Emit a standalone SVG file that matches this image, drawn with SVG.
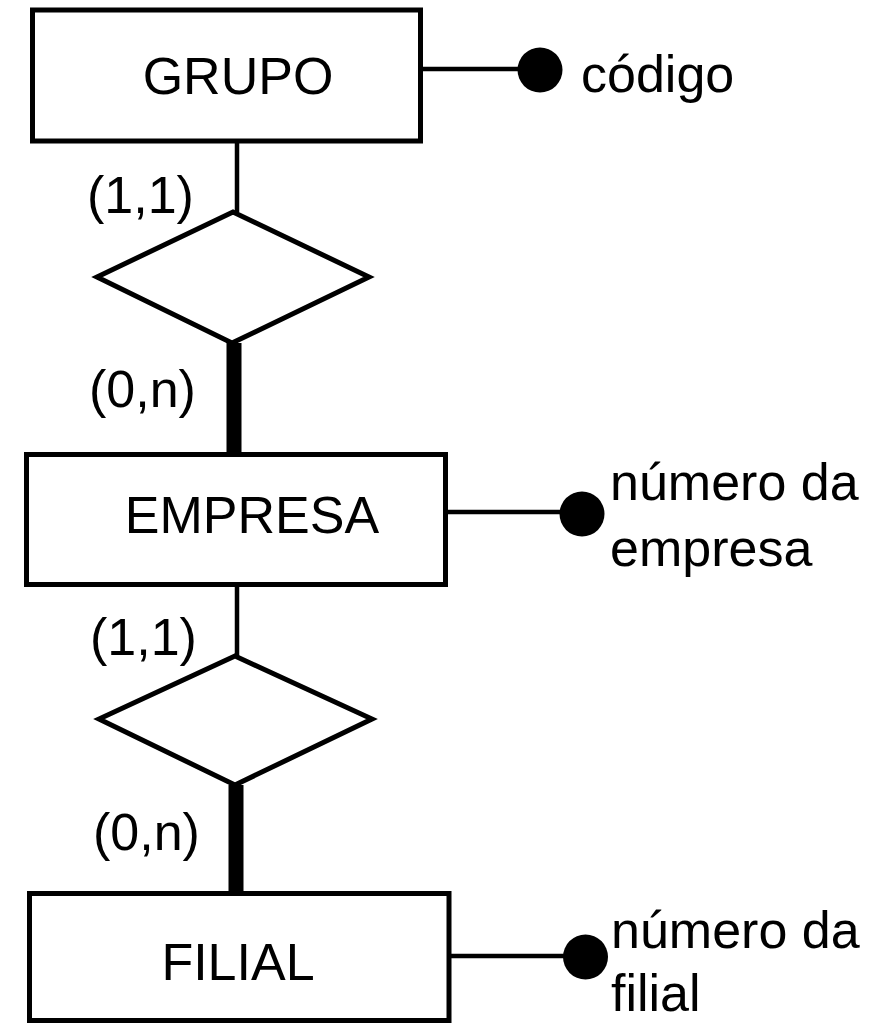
<svg xmlns="http://www.w3.org/2000/svg" width="884" height="1023" viewBox="0 0 884 1023">
<style>
.ent{fill:#fff;stroke:#000;stroke-width:5}
.rel{fill:#fff;stroke:#000;stroke-width:5;stroke-linejoin:miter}
.thin{stroke:#000;stroke-width:4.5;fill:none}
.thick{stroke:#000;stroke-width:15;fill:none}
.dot{fill:#000}
text{font-family:"Liberation Sans",Arial,Helvetica,sans-serif;font-size:52px;fill:#000}
</style>
<rect width="884" height="1023" fill="#fff"/>
<g id="connectors">
<line class="thin" x1="237" y1="141" x2="237" y2="212"/>
<line class="thick" x1="234" y1="343" x2="234" y2="455"/>
<line class="thin" x1="237" y1="585" x2="237" y2="656"/>
<line class="thick" x1="236" y1="785" x2="236" y2="894"/>
<line class="thin" x1="420" y1="69" x2="540" y2="69"/>
<line class="thin" x1="445" y1="512" x2="582" y2="512"/>
<line class="thin" x1="448" y1="956" x2="585" y2="956"/>
</g>
<g id="grupo">
<rect class="ent" x="32.5" y="10" width="388" height="131"/>
<text x="238" y="94" text-anchor="middle">GRUPO</text>
</g>
<g id="attr-codigo">
<circle class="dot" cx="540" cy="70" r="22.5"/>
<text x="581" y="92">código</text>
</g>
<g id="rel1">
<polygon class="rel" points="233,212 369,277 232,343 97,277"/>
</g>
<g id="card1">
<text x="87" y="213">(1,1)</text>
<text x="89" y="407">(0,n)</text>
</g>
<g id="empresa">
<rect class="ent" x="26.5" y="454.5" width="419" height="130"/>
<text x="252" y="533" text-anchor="middle">EMPRESA</text>
</g>
<g id="attr-empresa">
<circle class="dot" cx="582" cy="514" r="22.5"/>
<text x="610" y="500">número da</text>
<text x="610" y="566">empresa</text>
</g>
<g id="rel2">
<polygon class="rel" points="235,656 372,719 235,785 99,719"/>
</g>
<g id="card2">
<text x="90" y="655">(1,1)</text>
<text x="93" y="850">(0,n)</text>
</g>
<g id="filial">
<rect class="ent" x="29.5" y="893.5" width="419.5" height="127"/>
<text x="238" y="980" text-anchor="middle">FILIAL</text>
</g>
<g id="attr-filial">
<circle class="dot" cx="585.5" cy="957" r="22.5"/>
<text x="611" y="948">número da</text>
<text x="611" y="1011">filial</text>
</g>
</svg>
